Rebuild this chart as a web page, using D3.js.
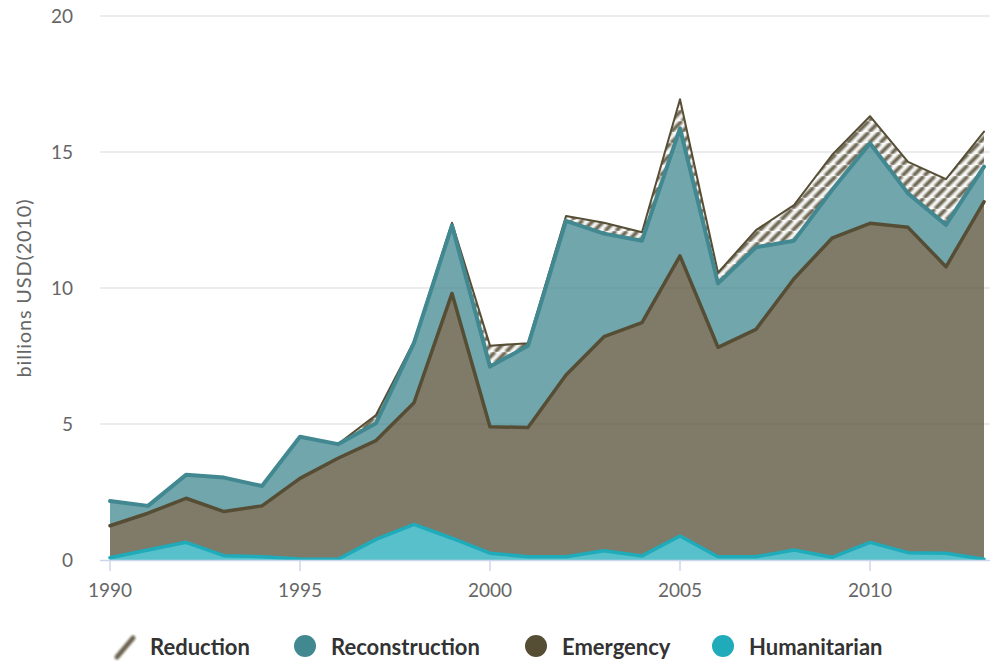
<!DOCTYPE html>
<html><head><meta charset="utf-8">
<script src="https://cdn.jsdelivr.net/npm/d3@7/dist/d3.min.js"></script>
<style>html,body{margin:0;padding:0;background:#fff;}svg{display:block;font-family:Lato,"Noto Sans",sans-serif;}</style>
</head><body><svg id="c" width="990" height="661"></svg>
<script>
const years = d3.range(1990, 2014);
const humanitarian   = [0.08,0.37,0.65,0.16,0.12,0.04,0.03,0.76,1.31,0.80,0.25,0.12,0.12,0.34,0.15,0.88,0.12,0.12,0.37,0.10,0.65,0.27,0.25,0.03];
const emergency      = [1.18,1.35,1.62,1.62,1.87,2.96,3.71,3.63,4.47,9.00,4.65,4.75,6.68,7.87,8.58,10.30,7.70,8.36,9.97,11.73,11.73,11.96,10.53,13.14];
const reconstruction = [0.91,0.27,0.86,1.25,0.73,1.53,0.52,0.64,2.20,2.50,2.21,3.01,5.67,3.79,3.01,4.69,2.35,3.02,1.40,1.77,2.94,1.25,1.54,1.29];
const reduction      = [0,0,0,0,0,0,0,0.30,0.05,0.10,0.77,0.09,0.18,0.40,0.31,1.07,0.39,0.63,1.31,1.29,1.00,1.16,1.68,1.29];
const yTicks = [0,5,10,15,20];
const xTicks = [1990,1995,2000,2005,2010];
const seriesNames = ["Reduction","Reconstruction","Emergency","Humanitarian"];

const colors = {Reduction:"#574e36", Reconstruction:"#428891", Emergency:"#564d35", Humanitarian:"#1fabb9"};
const widths = {Reduction:2, Reconstruction:4, Emergency:3.5, Humanitarian:3.5};

const svg = d3.select("#c");
const x = d3.scaleLinear().domain([1990,2013]).range([110,984]);
const y = d3.scaleLinear().domain([0,20]).range([560,16]);

const defs = svg.append("defs");
const blur = defs.append("filter").attr("id","bl").attr("x","-20%").attr("y","-20%").attr("width","140%").attr("height","140%");
blur.append("feGaussianBlur").attr("stdDeviation",1.1);
const pat = defs.append("pattern").attr("id","hatch").attr("patternUnits","userSpaceOnUse")
  .attr("width",11).attr("height",11);
pat.append("rect").attr("width",11).attr("height",11).attr("fill","#fff");
const pg = pat.append("g").attr("filter","url(#bl)");
[[-11,11,0,0],[0,11,11,0],[11,11,22,0]].forEach(d=>{
  pg.append("line").attr("x1",d[0]).attr("y1",d[1]).attr("x2",d[2]).attr("y2",d[3])
    .attr("stroke","#5e5640").attr("stroke-width",3.8);
});

// grid
svg.append("g").selectAll("line").data(yTicks.filter(d=>d>0)).join("line")
  .attr("x1",100).attr("x2",990).attr("y1",d=>y(d)).attr("y2",d=>y(d))
  .attr("stroke","#e6e6e6").attr("stroke-width",1.5);

// data table
const table = years.map((yr,i)=>({year:yr, Humanitarian:humanitarian[i], Emergency:emergency[i], Reconstruction:reconstruction[i], Reduction:reduction[i]}));
const stack = d3.stack().keys(["Humanitarian","Emergency","Reconstruction","Reduction"]);
const layers = stack(table);
const byKey = {}; layers.forEach(l=>byKey[l.key]=l);

const area = d3.area().x(d=>x(d.data.year)).y0(d=>y(d[0])).y1(d=>y(d[1]));
const line = d3.line().x(d=>x(d.data.year)).y(d=>y(d[1]));

const g = svg.append("g");
seriesNames.forEach(name=>{
  const L = byKey[name];
  if(name==="Reduction"){
    g.append("path").datum(L).attr("d",area).attr("fill","url(#hatch)");
  } else {
    g.append("path").datum(L).attr("d",area).attr("fill",colors[name]).attr("fill-opacity",0.75);
  }
});
seriesNames.forEach(name=>{
  const L = byKey[name];
  g.append("path").datum(L).attr("d",line).attr("fill","none")
    .attr("stroke",colors[name]).attr("stroke-width",widths[name]).attr("stroke-linejoin","round").attr("stroke-linecap","round");
});

// x axis
svg.append("line").attr("x1",100).attr("x2",990).attr("y1",560.5).attr("y2",560.5).attr("stroke","#ccd6eb").attr("stroke-width",1.5);
svg.append("g").selectAll("line").data(xTicks).join("line")
  .attr("x1",d=>x(d)).attr("x2",d=>x(d)).attr("y1",560).attr("y2",571).attr("stroke","#ccd6eb").attr("stroke-width",1.5);
svg.append("g").selectAll("text").data(xTicks).join("text")
  .attr("x",d=>x(d)).attr("y",597).attr("text-anchor","middle").attr("fill","#666").attr("font-size",19).text(d=>d);
// y labels
svg.append("g").selectAll("text").data(yTicks).join("text")
  .attr("x",73).attr("y",d=>y(d)+7).attr("text-anchor","end").attr("fill","#666").attr("font-size",19).text(d=>d);
svg.append("text").attr("transform","translate(31,288) rotate(-90)").attr("text-anchor","middle")
  .attr("fill","#666").attr("font-size",20).attr("letter-spacing",0.8).text("billions USD(2010)");

// legend
const legendX = {Reduction:113, Reconstruction:294, Emergency:525, Humanitarian:712};
const lg = svg.append("g");
seriesNames.forEach(name=>{
  const lx = legendX[name];
  if(name==="Reduction"){
    lg.append("path").attr("d",`M${lx+4},${657} L${lx+20},${638}`).attr("stroke","#6b6350").attr("stroke-width",5).attr("filter","url(#bl)").attr("stroke-linecap","round");
  } else {
    lg.append("circle").attr("cx",lx+11).attr("cy",646).attr("r",11).attr("fill",colors[name]);
  }
  lg.append("text").attr("x",lx+37).attr("y",655).attr("font-size",22).attr("font-weight","bold").attr("fill","#333").text(name);
});
</script></body></html>
